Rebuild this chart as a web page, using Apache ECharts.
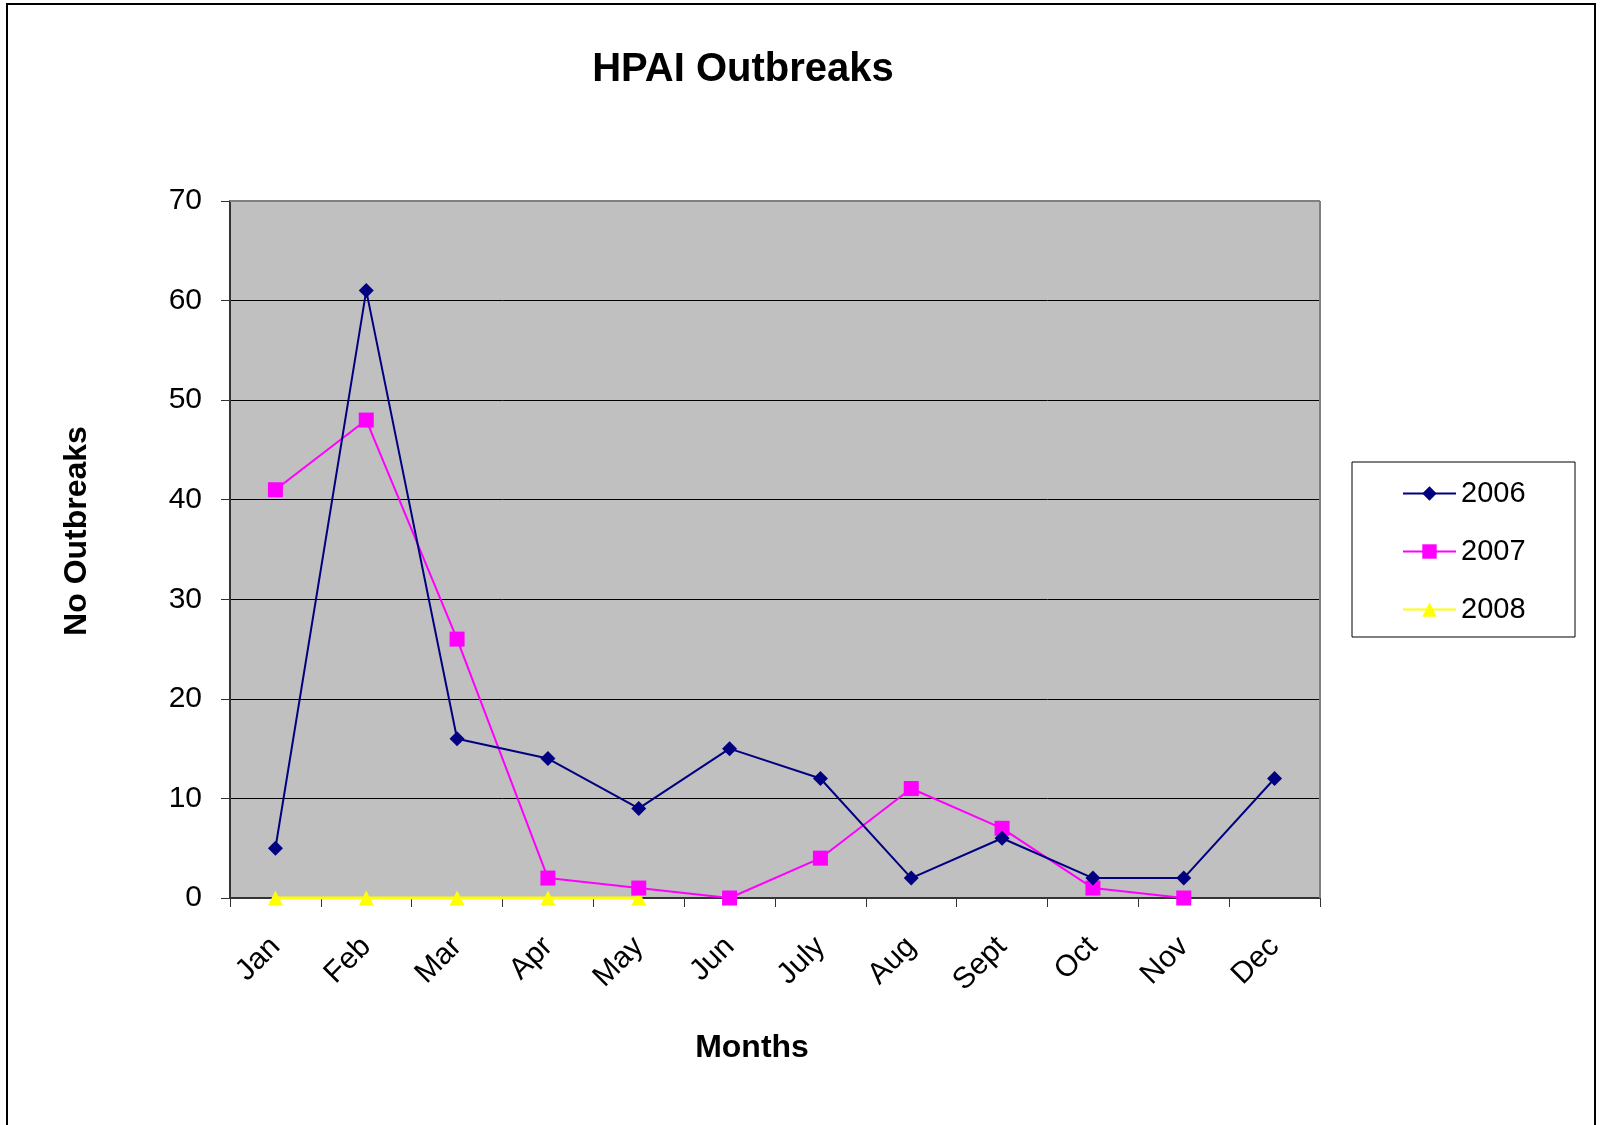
<!DOCTYPE html>
<html>
<head>
<meta charset="utf-8">
<script src="https://cdn.jsdelivr.net/npm/echarts@6/dist/echarts.min.js"></script>
<style>
  html, body { margin: 0; padding: 0; background: #fff; }
  #chart { width: 1600px; height: 1125px; }
</style>
</head>
<body>
<div id="chart"></div>
<script>
const months = ['Jan', 'Feb', 'Mar', 'Apr', 'May', 'Jun', 'July', 'Aug', 'Sept', 'Oct', 'Nov', 'Dec'];
const y2006 = [5, 61, 16, 14, 9, 15, 12, 2, 6, 2, 2, 12];
const y2007 = [41, 48, 26, 2, 1, 0, 4, 11, 7, 1, 0, null];
const y2008 = [0, 0, 0, 0, 0, null, null, null, null, null, null, null];
const yTicks = { min: 0, max: 70, interval: 10 };

const FONT = 'Liberation Sans, Arial, sans-serif';
const chart = echarts.init(document.getElementById('chart'), null, { renderer: 'canvas' });

chart.setOption({
  backgroundColor: '#ffffff',
  animation: false,
  title: {
    text: 'HPAI Outbreaks',
    left: 738, top: 45,
    textAlign: 'center',
    textStyle: { fontFamily: FONT, fontSize: 40, fontWeight: 'bold', color: '#000' }
  },
  graphic: [
    { type: 'rect', shape: { x: 7, y: 4, width: 1588, height: 1140 }, style: { fill: null, stroke: '#000', lineWidth: 2 }, z: 0 },
    { type: 'rect', shape: { x: 1352, y: 462, width: 223, height: 175 }, style: { fill: '#fff', stroke: '#000', lineWidth: 1 }, z: 1 },
    { type: 'line', shape: { x1: 230, y1: 201, x2: 1320, y2: 201 }, style: { stroke: '#808080', lineWidth: 2 }, z: 5 },
    { type: 'line', shape: { x1: 1320, y1: 201, x2: 1320, y2: 898 }, style: { stroke: '#808080', lineWidth: 2 }, z: 5 },
    { type: 'text', x: 752, y: 1048, style: { text: 'Months', fontFamily: FONT, fontSize: 32, fontWeight: 'bold', fill: '#000', textAlign: 'center', textVerticalAlign: 'middle' }, z: 5 },
    { type: 'text', x: 77, y: 531, rotation: Math.PI / 2, style: { text: 'No Outbreaks', fontFamily: FONT, fontSize: 32, fontWeight: 'bold', fill: '#000', textAlign: 'center', textVerticalAlign: 'middle' }, z: 5 }
  ],
  legend: {
    orient: 'vertical',
    left: 1397, top: 474,
    itemWidth: 53, itemHeight: 18,
    itemGap: 29,
    textStyle: { fontFamily: FONT, fontSize: 29, color: '#000' },
    data: ['2006', '2007', '2008'],
    z: 10
  },
  grid: { left: 230, right: 280, top: 201, bottom: 227, show: true, backgroundColor: '#C0C0C0', borderWidth: 0 },
  xAxis: {
    type: 'category',
    data: months,
    boundaryGap: true,
    axisLine: { lineStyle: { color: '#333', width: 2 } },
    axisTick: { show: true, length: 9, alignWithLabel: false, lineStyle: { color: '#333' } },
    axisLabel: { rotate: 45, margin: 44, fontFamily: FONT, fontSize: 30, color: '#000', interval: 0 },
    splitLine: { show: false }
  },
  yAxis: {
    type: 'value',
    min: yTicks.min, max: yTicks.max, interval: yTicks.interval,
    axisLine: { show: true, lineStyle: { color: '#333', width: 2 } },
    axisTick: { show: true, length: 9, lineStyle: { color: '#333' } },
    axisLabel: { margin: 28, fontFamily: FONT, fontSize: 30, color: '#000' },
    splitLine: { show: true, lineStyle: { color: '#000', width: 1 } }
  },
  series: [
    {
      name: '2006', type: 'line', data: y2006,
      symbol: 'diamond', symbolSize: 15,
      lineStyle: { color: '#000080', width: 2 },
      itemStyle: { color: '#000080' },
      connectNulls: false, z: 4
    },
    {
      name: '2007', type: 'line', data: y2007,
      symbol: 'rect', symbolSize: 15,
      lineStyle: { color: '#FF00FF', width: 2 },
      itemStyle: { color: '#FF00FF' },
      connectNulls: false, z: 3
    },
    {
      name: '2008', type: 'line', data: y2008,
      symbol: 'triangle', symbolSize: 15,
      lineStyle: { color: '#FFFF00', width: 3 },
      itemStyle: { color: '#FFFF00' },
      connectNulls: false, z: 2
    }
  ]
});
</script>
</body>
</html>
